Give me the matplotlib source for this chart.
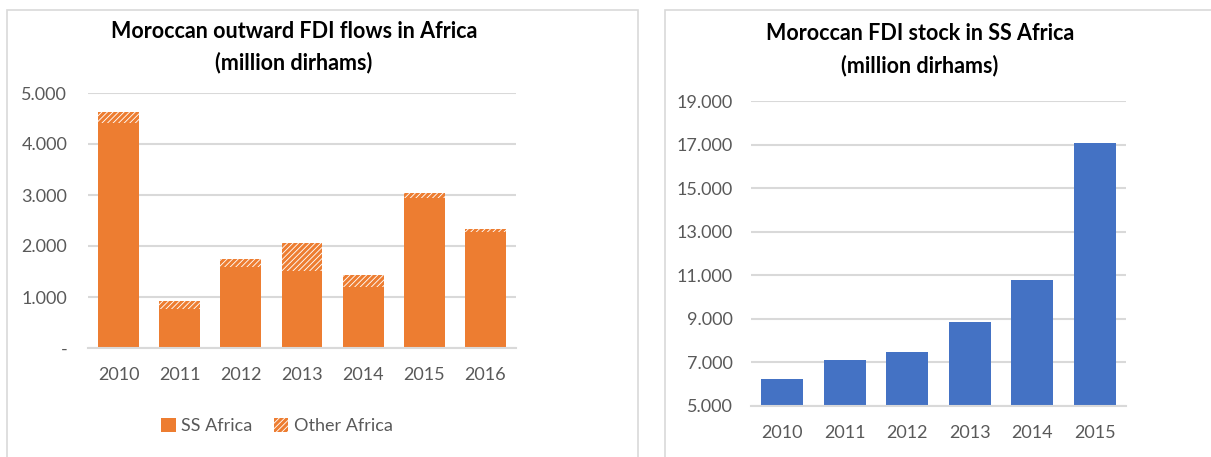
import matplotlib.pyplot as plt
from matplotlib.patches import Rectangle, Patch
from matplotlib.ticker import FuncFormatter

plt.rcParams['font.family'] = ['Lato', 'DejaVu Sans']
plt.rcParams['hatch.linewidth'] = 2.2

# ---- data ----
years_flow = ['2010', '2011', '2012', '2013', '2014', '2015', '2016']
ss_africa = [4420, 770, 1590, 1510, 1190, 2950, 2280]
other_africa = [210, 150, 160, 550, 240, 90, 50]

years_stock = ['2010', '2011', '2012', '2013', '2014', '2015']
stock_ss = [6240, 7110, 7480, 8850, 10780, 17060]

orange = '#ED7D31'
blue = '#4472C4'
grid = '#D9D9D9'
txt = '#595959'

W, H = 1211, 457
fig = plt.figure(figsize=(W / 100, H / 100), dpi=100)

# chart frames
fig.patches.append(Rectangle((7 / W, -0.1), 631 / W, 1.1 - 10 / H, transform=fig.transFigure,
                             fill=False, edgecolor=grid, lw=1.2))
fig.patches.append(Rectangle((665 / W, -0.1), 600 / W, 1.1 - 10 / H, transform=fig.transFigure,
                             fill=False, edgecolor=grid, lw=1.2))


def dot_thousands(v, pos):
    if v == 0:
        return '-'
    return f'{int(v):,}'.replace(',', '.')


def style(ax, ypad):
    for s in ['top', 'right', 'left']:
        ax.spines[s].set_visible(False)
    ax.spines['bottom'].set_color(grid)
    ax.spines['bottom'].set_linewidth(1.5)
    ax.yaxis.grid(True, color=grid, lw=1.5)
    ax.set_axisbelow(True)
    ax.tick_params(axis='both', length=0, labelsize=13, colors=txt)
    ax.tick_params(axis='y', pad=ypad)
    ax.tick_params(axis='x', pad=14)
    ax.yaxis.set_major_formatter(FuncFormatter(dot_thousands))


# ---- left: flows ----
ax1 = fig.add_axes([88 / W, 1 - 348 / H, 428 / W, 255 / H])
x1 = range(len(years_flow))
ax1.bar(x1, ss_africa, width=0.67, color=orange, label='SS Africa')
ax1.bar(x1, other_africa, width=0.67, bottom=ss_africa, facecolor='white',
        edgecolor=orange, linewidth=0, hatch='//////', label='Other Africa')
ax1.set_xlim(-0.5, len(years_flow) - 0.5)
ax1.set_ylim(0, 5000)
ax1.set_yticks([0, 1000, 2000, 3000, 4000, 5000])
ax1.set_xticks(list(x1))
ax1.set_xticklabels(years_flow)
style(ax1, 15)

fig.text(294 / W, 1 - 31 / H, 'Moroccan outward FDI flows in Africa', ha='center', va='center',
         fontsize=15.5, fontweight='bold', color='black')
fig.text(294 / W, 1 - 63 / H, '(million dirhams)', ha='center', va='center',
         fontsize=15.5, fontweight='bold', color='black')

handles = [Patch(facecolor=orange, label='SS Africa'),
           Patch(facecolor='white', edgecolor=orange, linewidth=0, hatch='//////', label='Other Africa')]
fig.legend(handles=handles, loc='center', bbox_to_anchor=(277 / W, 1 - 426 / H), ncol=2,
           frameon=False, fontsize=13, labelcolor=txt, handlelength=0.8, handleheight=0.8,
           handletextpad=0.3, columnspacing=1.2)

# ---- right: stock ----
ax2 = fig.add_axes([751 / W, 1 - 406 / H, 375 / W, 305 / H])
x2 = range(len(years_stock))
ax2.bar(x2, stock_ss, width=0.67, color=blue)
ax2.set_xlim(-0.5, len(years_stock) - 0.5)
ax2.set_ylim(5000, 19000)
ax2.set_yticks(range(5000, 19001, 2000))
ax2.set_xticks(list(x2))
ax2.set_xticklabels(years_stock)
style(ax2, 13)

fig.text(920 / W, 1 - 33 / H, 'Moroccan FDI stock in SS Africa', ha='center', va='center',
         fontsize=15.5, fontweight='bold', color='black')
fig.text(920 / W, 1 - 66 / H, '(million dirhams)', ha='center', va='center',
         fontsize=15.5, fontweight='bold', color='black')

fig.savefig('out.png', dpi=100)
